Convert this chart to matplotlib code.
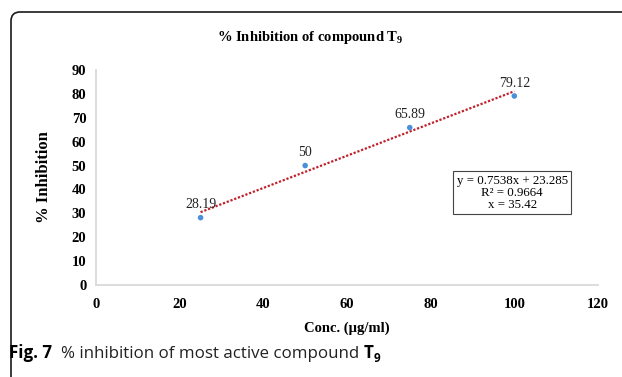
import numpy as np
import matplotlib
matplotlib.use('Agg')
import matplotlib.pyplot as plt
from matplotlib.patches import FancyBboxPatch
from matplotlib.transforms import IdentityTransform

# data
conc = [25, 50, 75, 100]
inhibition = [28.19, 50, 65.89, 79.12]
point_labels = ['28.19', '50', '65.89', '79.12']
x_ticks = [0, 20, 40, 60, 80, 100, 120]
y_ticks = [0, 10, 20, 30, 40, 50, 60, 70, 80, 90]
equation_text = 'y = 0.7538x + 23.285\nR\u00b2 = 0.9664\nx = 35.42'

serif = 'Liberation Serif'
sans = 'Open Sans'

plt.rcParams['mathtext.fontset'] = 'custom'
plt.rcParams['mathtext.rm'] = 'Liberation Serif'
plt.rcParams['mathtext.bf'] = 'Liberation Serif:bold'

fig = plt.figure(figsize=(6.22, 3.77), dpi=100)
W, H = 622, 377

# rounded frame around the chart
frame = FancyBboxPatch((11, -60), 700, H - 12 + 60,
                       boxstyle='round,pad=0,rounding_size=9',
                       transform=IdentityTransform(), fill=False,
                       edgecolor='#1a1a1a', linewidth=1.2)
fig.patches.append(frame)

ax = fig.add_axes([96 / W, 1 - 285 / H, (598 - 96) / W, (285 - 70) / H])
ax.set_xlim(0, 120)
ax.set_ylim(0, 90)
ax.set_xticks(x_ticks)
ax.set_yticks(y_ticks)
ax.tick_params(length=0, labelsize=10.5)
ax.tick_params(axis='y', pad=7)
ax.tick_params(axis='x', pad=9)
for lab in ax.get_xticklabels() + ax.get_yticklabels():
    lab.set_fontfamily(serif)
    lab.set_fontweight('bold')
for s in ['top', 'right']:
    ax.spines[s].set_visible(False)
for s in ['left', 'bottom']:
    ax.spines[s].set_color('#d9d9d9')
    ax.spines[s].set_linewidth(1.3)

# linear trendline fitted to the points
slope, intercept = np.polyfit(conc, inhibition, 1)
xs = np.array([conc[0], conc[-1]])
ax.plot(xs, slope * xs + intercept, color='#c0202a', linewidth=1.6,
        linestyle=(0, (1, 0.8)), zorder=2)

ax.scatter(conc, inhibition, s=16, color='#4a8fdc', zorder=3,
           edgecolors='none')
for x, y, t in zip(conc, inhibition, point_labels):
    ax.annotate(t, (x, y), xytext=(0, 4.5), textcoords='offset points',
                ha='center', va='bottom', fontsize=10, family=serif,
                color='#222222')

ax.text(0.829, 0.43, equation_text, transform=ax.transAxes, ha='center',
        va='center', fontsize=9.3, family=serif, linespacing=1.0,
        bbox=dict(boxstyle='square,pad=0.25', facecolor='white',
                  edgecolor='#444444', linewidth=0.8))

ax.set_xlabel('Conc. (\u00b5g/ml)', fontsize=10.5, family=serif,
              fontweight='bold', labelpad=8)
ax.set_ylabel('% Inhibition', fontsize=12, family=serif,
              fontweight='bold', labelpad=14)

fig.text(310 / W, 1 - 37 / H, r'% Inhibition of compound T$_{\mathbf{9}}$',
         ha='center', va='center', fontsize=10.5, family=serif,
         fontweight='bold')

# caption with mixed fonts
fig.canvas.draw()
r = fig.canvas.get_renderer()
cy = 1 - 358 / H
t1 = fig.text(9 / W, cy, 'Fig. 7', fontsize=12.2, family=sans,
              fontweight='bold', va='baseline')
ext = t1.get_window_extent(r)
t2 = fig.text((ext.x1 + 9) / W, cy, '% inhibition of most active compound ',
              fontsize=12.2, family=sans, va='baseline', color='#222222')
ext = t2.get_window_extent(r)
t3 = fig.text(ext.x1 / W, cy, 'T', fontsize=12.2, family=sans,
              fontweight='bold', va='baseline')
ext = t3.get_window_extent(r)
fig.text(ext.x1 / W, cy - 4 / H, '9', fontsize=8.5, family=sans,
         fontweight='bold', va='baseline')

fig.savefig('out.png', dpi=100)
